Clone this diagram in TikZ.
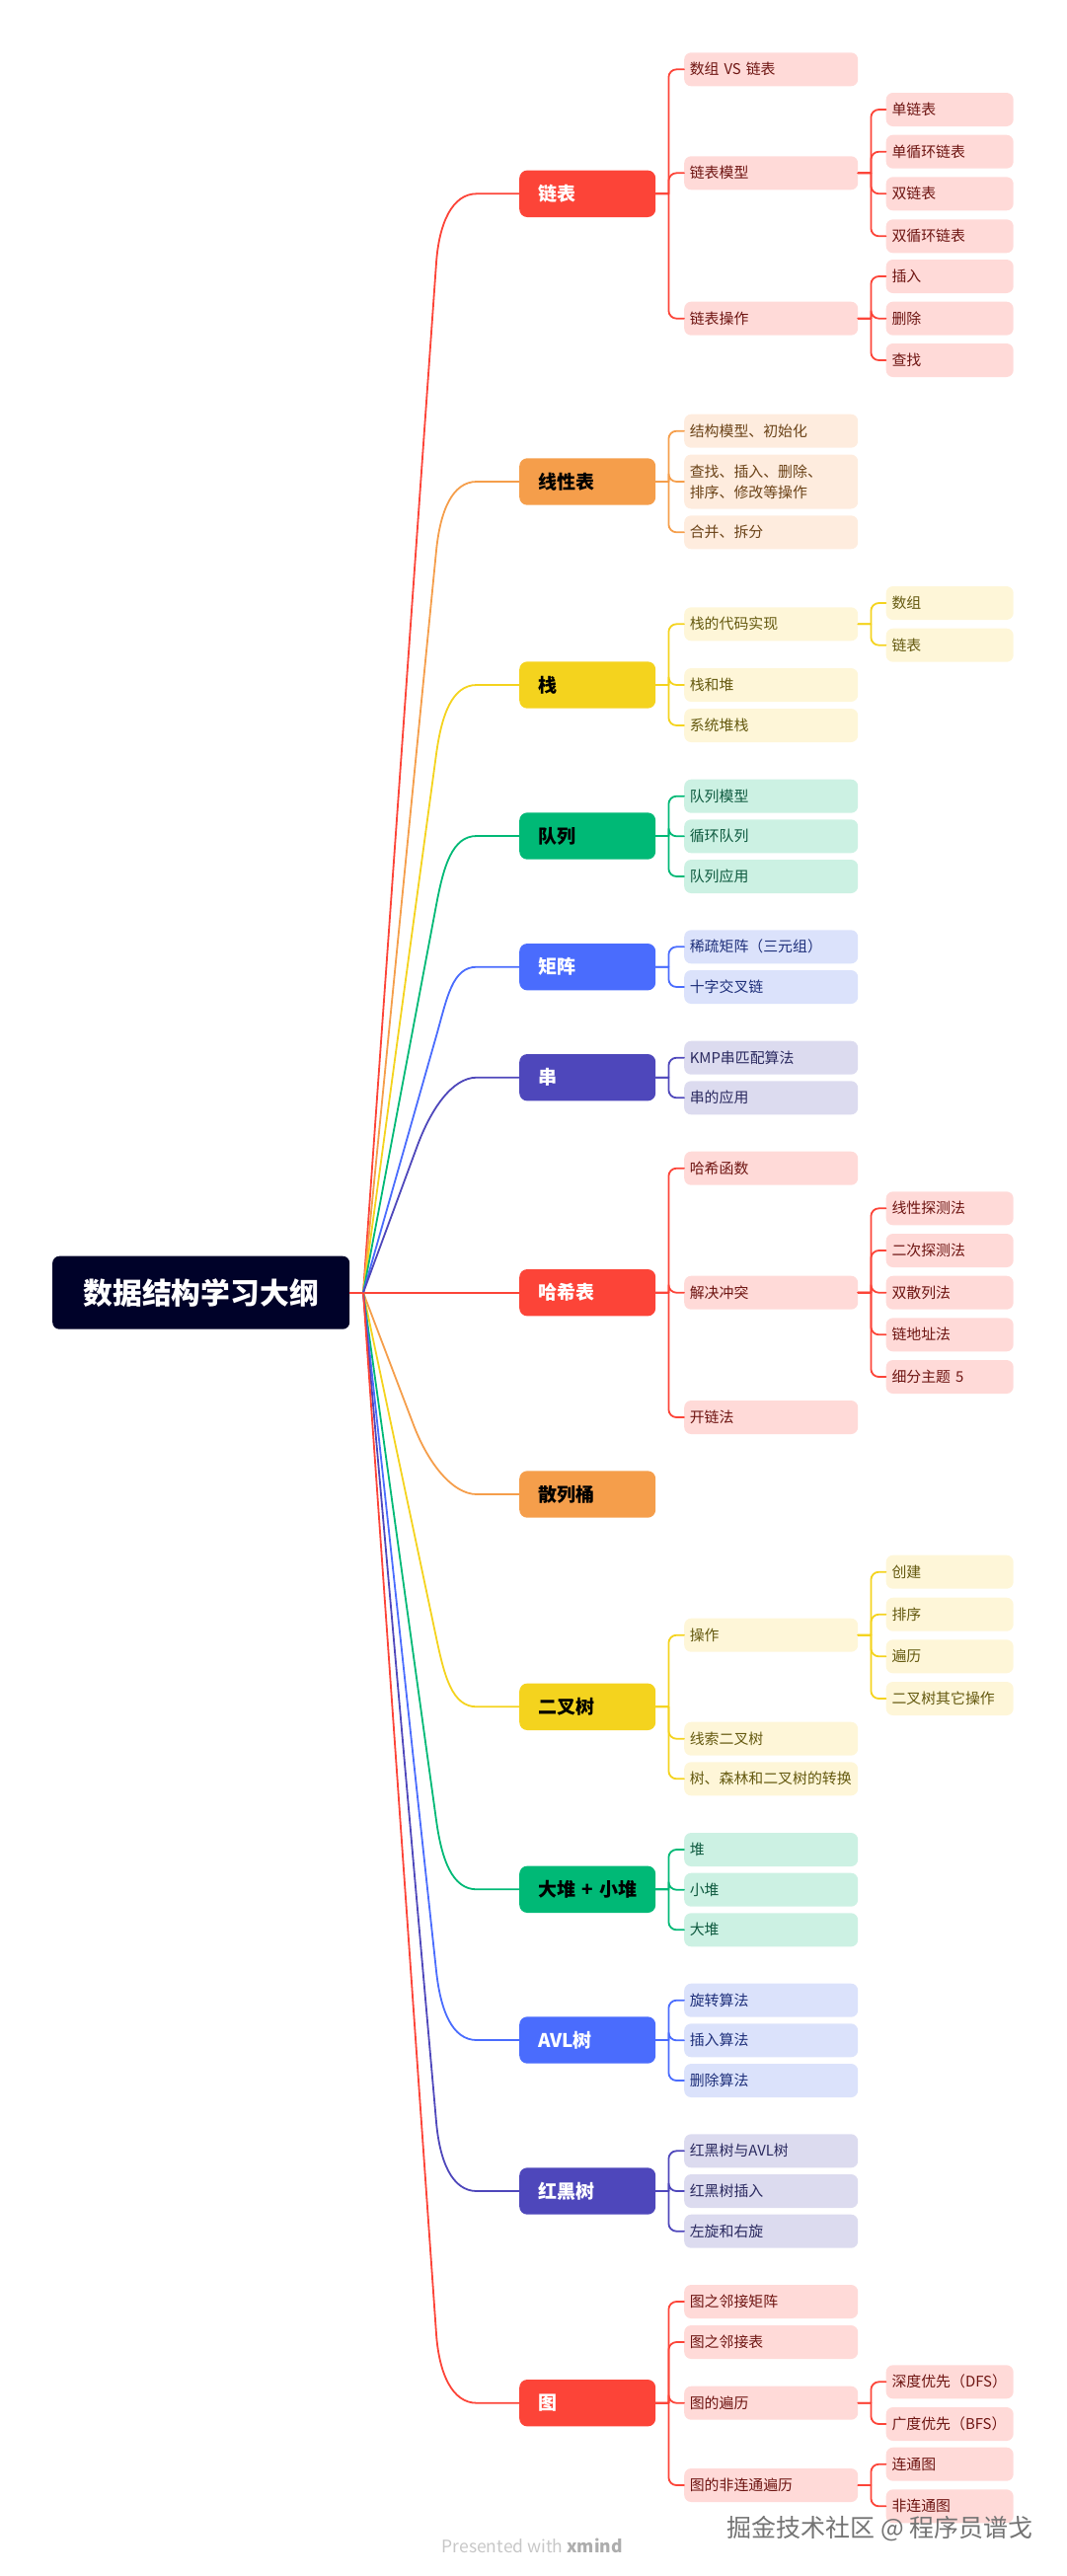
\documentclass[tikz,border=0pt]{standalone}
\usepackage{xcolor}
\usepackage{fontspec}
\setmainfont{Noto Sans CJK SC}
\definecolor{rootfill}{RGB}{0, 2, 41}
\definecolor{redmain}{RGB}{252, 68, 56}
\definecolor{redsoft}{RGB}{255, 218, 216}
\definecolor{redtext}{RGB}{110, 21, 18}
\definecolor{orangemain}{RGB}{245, 158, 75}
\definecolor{orangesoft}{RGB}{254, 236, 222}
\definecolor{orangetext}{RGB}{107, 67, 24}
\definecolor{yellowmain}{RGB}{244, 211, 30}
\definecolor{yellowsoft}{RGB}{254, 246, 216}
\definecolor{yellowtext}{RGB}{101, 90, 16}
\definecolor{greenmain}{RGB}{0, 185, 118}
\definecolor{greensoft}{RGB}{204, 241, 227}
\definecolor{greentext}{RGB}{14, 90, 63}
\definecolor{bluemain}{RGB}{74, 108, 253}
\definecolor{bluesoft}{RGB}{219, 226, 251}
\definecolor{bluetext}{RGB}{30, 47, 122}
\definecolor{indigomain}{RGB}{78, 71, 187}
\definecolor{indigosoft}{RGB}{220, 219, 239}
\definecolor{indigotext}{RGB}{43, 42, 96}
\tikzset{
  box/.style={anchor=west, align=left, inner ysep=0pt},
  topic/.style={box, fill=#1main, rounded corners=8pt, inner xsep=19pt, text width=100pt,
    text height=16.7pt, text depth=2.3pt,
    minimum height=47.4pt, font=\fontsize{19}{22}\selectfont\bfseries},
  sub/.style={box, fill=#1soft, text=#1text, rounded corners=7pt, inner xsep=5.6pt, text width=164.8pt,
    text height=13.1pt, text depth=1.8pt,
    minimum height=34pt, font=\fontsize{14.9}{21.3}\selectfont},
  leaf/.style={box, fill=#1soft, text=#1text, rounded corners=7pt, inner xsep=5.8pt, text width=117.4pt,
    text height=13.1pt, text depth=1.8pt,
    minimum height=34pt, font=\fontsize{14.9}{21.3}\selectfont},
  trunk/.style={draw=#1main, line width=1.8pt},
  branch/.style={draw=#1main, line width=1.8pt, line cap=round,
    to path={(\tikztostart) -- ([xshift=13pt]\tikztostart)
      [rounded corners=8pt] ([xshift=13pt]\tikztostart) |- (\tikztotarget)}},
}
\begin{document}
\begin{tikzpicture}[x=1pt, y=-1pt]
  \useasboundingbox (0,0) rectangle (1080,2610);
  \coordinate (hub) at (368,1309.7);
  % topics and the curved lines from the root
  \foreach \y/\lab/\col/\txt [count=\i] in {
    196.3/链表/red/white,
    488/线性表/orange/black,
    694/栈/yellow/black,
    847/队列/green/black,
    979.7/矩阵/blue/white,
    1091.7/串/indigo/white,
    1309.7/哈希表/red/white,
    1514/散列桶/orange/black,
    1729.3/二叉树/yellow/black,
    1914.3/大堆~+~小堆/green/black,
    2067/AVL树/blue/white,
    2220/红黑树/indigo/white,
    2434.7/图/red/white} {
      \node[topic=\col, text=\txt] (t\i) at (526,\y) {\lab};
      \pgfmathtruncatemacro{\isflat}{abs(\y-1309.7)<1}
      \ifnum\isflat=1
        \draw[trunk=\col] (hub) -- (t\i.west);
      \else
        \pgfmathsetmacro{\sgn}{\y<1309.7?-1:1}
        \pgfmathsetmacro{\bx}{368+min(74,0.25*abs(\y-1309.7))}
        \pgfmathsetmacro{\by}{\y-\sgn*70}
        \pgfmathsetmacro{\len}{100*veclen((\bx-368)/100,(\by-1309.7)/100)}
        \pgfmathsetmacro{\cx}{\bx+40*((\bx-368)/\len)}
        \pgfmathsetmacro{\cy}{\by+40*((\by-1309.7)/\len)}
        \draw[trunk=\col] (hub) -- (\bx,\by) .. controls (\cx,\cy) and (458,\y) .. (483,\y) -- (t\i.west);
      \fi
  }
  % root
  \node[fill=rootfill, text=white, rounded corners=7pt, minimum width=301pt, minimum height=74pt,
    font=\fontsize{29.8}{34}\selectfont\bfseries] (root) at (203.7,1309.7) {数据结构学习大纲};
  \draw[trunk=red] (root.east) -- (hub);

  % sub topics of each topic
  \foreach \y/\lab [count=\i] in {70.3/数组 VS 链表, 175.3/链表模型, 322.7/链表操作} {
    \node[sub=red] (a\i) at (693,\y) {\lab};
    \draw[branch=red] (t1.east) to (a\i.west);
  }
  \foreach \y/\lab [count=\i] in {111/单链表, 153.7/单循环链表, 196.3/双链表, 239.3/双循环链表} {
    \node[leaf=red] (aa\i) at (897.5,\y) {\lab};
    \draw[branch=red] (a2.east) to (aa\i.west);
  }
  \foreach \y/\lab [count=\i] in {280/插入, 322.7/删除, 365/查找} {
    \node[leaf=red] (ab\i) at (897.5,\y) {\lab};
    \draw[branch=red] (a3.east) to (ab\i.west);
  }
  \node[sub=orange] (b1) at (693,436.7) {结构模型、初始化};
  % two lines: the box has to be taller
  \node[sub=orange, text depth=23.1pt, minimum height=55pt] (b2) at (693,488) {查找、插入、删除、\\排序、修改等操作};
  \node[sub=orange] (b3) at (693,539.3) {合并、拆分};
  \foreach \n in {b1,b2,b3} {
    \draw[branch=orange] (t2.east) to (\n.west);
  }
  \foreach \y/\lab [count=\i] in {632.3/栈的代码实现, 694/栈和堆, 735/系统堆栈} {
    \node[sub=yellow] (c\i) at (693,\y) {\lab};
    \draw[branch=yellow] (t3.east) to (c\i.west);
  }
  \foreach \y/\lab [count=\i] in {611/数组, 653.7/链表} {
    \node[leaf=yellow] (ca\i) at (897.5,\y) {\lab};
    \draw[branch=yellow] (c1.east) to (ca\i.west);
  }
  \foreach \y/\lab [count=\i] in {806.7/队列模型, 847.3/循环队列, 888/队列应用} {
    \node[sub=green] (d\i) at (693,\y) {\lab};
    \draw[branch=green] (t4.east) to (d\i.west);
  }
  \foreach \y/\lab [count=\i] in {959.3/稀疏矩阵（三元组）, 1000/十字交叉链} {
    \node[sub=blue] (e\i) at (693,\y) {\lab};
    \draw[branch=blue] (t5.east) to (e\i.west);
  }
  \foreach \y/\lab [count=\i] in {1071.7/KMP串匹配算法, 1112.3/串的应用} {
    \node[sub=indigo] (f\i) at (693,\y) {\lab};
    \draw[branch=indigo] (t6.east) to (f\i.west);
  }
  \foreach \y/\lab [count=\i] in {1183.7/哈希函数, 1309.7/解决冲突, 1436/开链法} {
    \node[sub=red] (g\i) at (693,\y) {\lab};
    \draw[branch=red] (t7.east) to (g\i.west);
  }
  \foreach \y/\lab [count=\i] in {1224.3/线性探测法, 1267/二次探测法, 1309.7/双散列法, 1352.3/链地址法, 1395/细分主题 5} {
    \node[leaf=red] (ga\i) at (897.5,\y) {\lab};
    \draw[branch=red] (g2.east) to (ga\i.west);
  }
  \foreach \y/\lab [count=\i] in {1656.7/操作, 1761.7/线索二叉树, 1802.3/树、森林和二叉树的转换} {
    \node[sub=yellow] (h\i) at (693,\y) {\lab};
    \draw[branch=yellow] (t9.east) to (h\i.west);
  }
  \foreach \y/\lab [count=\i] in {1592.7/创建, 1635.7/排序, 1678.3/遍历, 1721/二叉树其它操作} {
    \node[leaf=yellow] (ha\i) at (897.5,\y) {\lab};
    \draw[branch=yellow] (h1.east) to (ha\i.west);
  }
  \foreach \y/\lab [count=\i] in {1874/堆, 1914.7/小堆, 1955.3/大堆} {
    \node[sub=green] (j\i) at (693,\y) {\lab};
    \draw[branch=green] (t10.east) to (j\i.west);
  }
  \foreach \y/\lab [count=\i] in {2026.7/旋转算法, 2067.3/插入算法, 2108/删除算法} {
    \node[sub=blue] (k\i) at (693,\y) {\lab};
    \draw[branch=blue] (t11.east) to (k\i.west);
  }
  \foreach \y/\lab [count=\i] in {2179.3/红黑树与AVL树, 2220/红黑树插入, 2260.7/左旋和右旋} {
    \node[sub=indigo] (m\i) at (693,\y) {\lab};
    \draw[branch=indigo] (t12.east) to (m\i.west);
  }
  \foreach \y/\lab [count=\i] in {2332/图之邻接矩阵, 2373/图之邻接表, 2434.7/图的遍历, 2518/图的非连通遍历} {
    \node[sub=red] (n\i) at (693,\y) {\lab};
    \draw[branch=red] (t13.east) to (n\i.west);
  }
  \foreach \y/\lab [count=\i] in {2413.3/深度优先（DFS）, 2456/广度优先（BFS）} {
    \node[leaf=red] (na\i) at (897.5,\y) {\lab};
    \draw[branch=red] (n3.east) to (na\i.west);
  }
  \foreach \y/\lab [count=\i] in {2496.7/连通图, 2539.3/非连通图} {
    \node[leaf=red] (nb\i) at (897.5,\y) {\lab};
    \draw[branch=red] (n4.east) to (nb\i.west);
  }
  % footer and watermark
  \node[anchor=east, text=black!22, inner sep=0pt, font=\fontsize{17.5}{20}\selectfont] (credit) at (631,2579)
    {Presented with {\bfseries\color{black!32}xmind}};
  \node[anchor=east, text=black!55, inner sep=0pt, font=\fontsize{25}{28}\selectfont] (mark) at (1046.5,2562.5)
    {掘金技术社区 @ 程序员谱戈};
\end{tikzpicture}
\end{document}
